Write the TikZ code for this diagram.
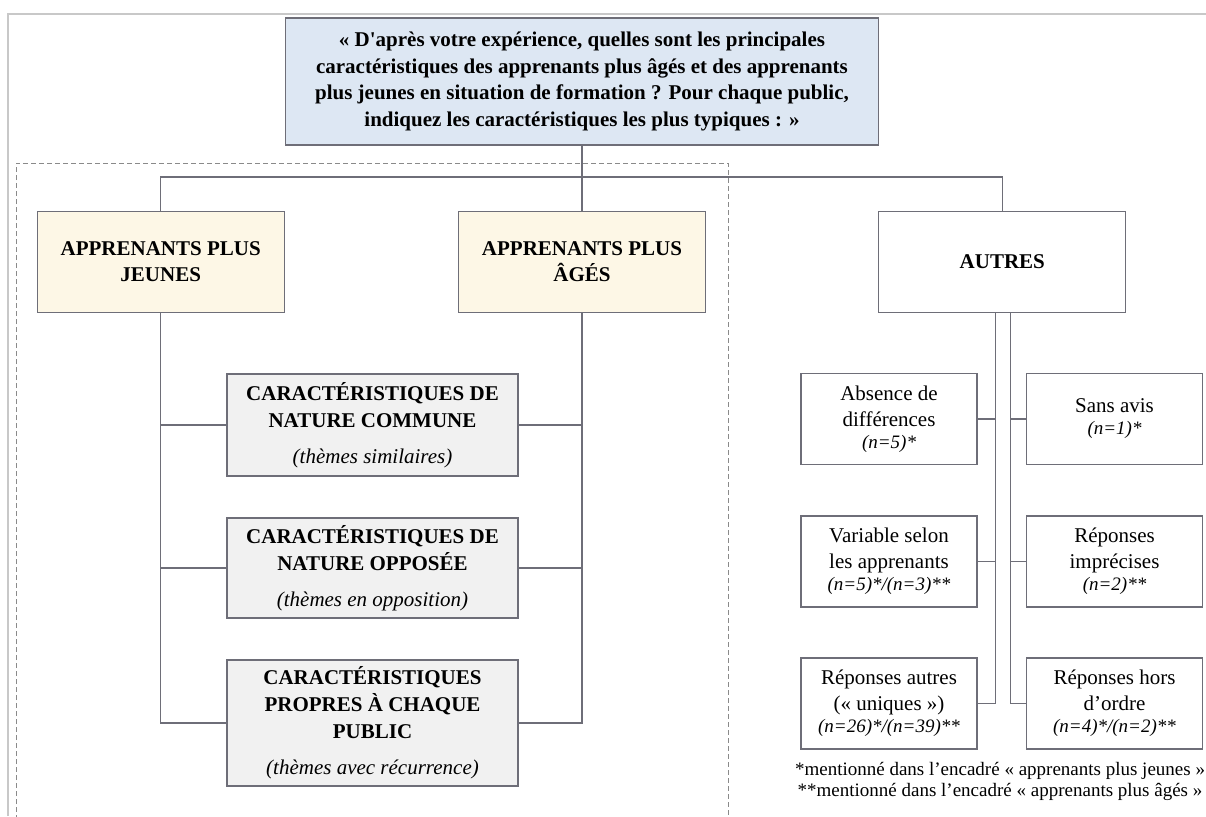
\documentclass[tikz,border=0pt]{standalone}
\usepackage{fontspec}
\setmainfont{Liberation Serif}[Ligatures=TeXOff]
\usetikzlibrary{positioning}
\definecolor{frame}{HTML}{6E6E78}
\definecolor{pageline}{HTML}{C8C8C8}
\definecolor{dashgray}{HTML}{8A8A8A}
\definecolor{softblue}{HTML}{DDE7F3}
\definecolor{cream}{HTML}{FDF7E6}
\definecolor{softgray}{HTML}{F1F1F1}
\tikzset{
    box/.style={draw=frame,line width=1.3pt,inner sep=4pt,align=center,text=black},
    qbox/.style={box,fill=softblue,minimum width=593pt,minimum height=127pt,
      font=\fontsize{21}{26.5}\selectfont\bfseries},
    groupbox/.style={box,fill=cream,minimum width=247pt,minimum height=101pt,
      font=\fontsize{21}{26}\selectfont\bfseries},
    themebox/.style={box,fill=softgray,minimum width=291pt,
      font=\fontsize{21}{27}\selectfont\bfseries},
    otherbox/.style={box,fill=white,minimum width=176pt,minimum height=91pt,
      font=\fontsize{21}{26}\selectfont},
    link/.style={draw=frame,line width=1.3pt},
    legendtext/.style={align=center,inner sep=0pt,font=\fontsize{19}{21}\selectfont}
}
\newcommand{\themeline}[1]{\\[9pt]{\mdseries\itshape #1}}
\newcommand{\nline}[1]{\\[-4pt]{\fontsize{19}{22}\selectfont\itshape #1}}

\begin{document}
\begin{tikzpicture}[x=1pt,y=-1pt]
    \useasboundingbox (0,0) rectangle (1206,816);
    % page frame and group frame
    \draw[pageline,line width=1.5pt] (8,816) |- (1206,14);
    \draw[dashgray,line width=1pt,dash pattern=on 5pt off 3pt] (16,820) |- (728,163) -- (728,820);

    \node[qbox] (question) at (582,81.5) {« D'après votre expérience, quelles sont les principales\\
      caractéristiques des apprenants plus âgés et des apprenants\\
      plus jeunes en situation de formation ? Pour chaque public,\\
      indiquez les caractéristiques les plus typiques : »};

    \node[groupbox,below=65pt of question] (ages) {APPRENANTS PLUS\\ÂGÉS};
    \node[groupbox,left=173pt of ages] (jeunes) {APPRENANTS PLUS\\JEUNES};
    \node[groupbox,fill=white,right=172pt of ages] (autres) {AUTRES};

    \node[themebox,minimum height=102pt] (commune) at (372.5,425)
      {CARACTÉRISTIQUES DE\\NATURE COMMUNE\themeline{(thèmes similaires)}};
    \node[themebox,minimum height=100pt] (opposee) at (372.5,568)
      {CARACTÉRISTIQUES DE\\NATURE OPPOSÉE\themeline{(thèmes en opposition)}};
    \node[themebox,minimum height=126pt] (propre) at (372.5,723)
      {CARACTÉRISTIQUES\\PROPRES À CHAQUE\\PUBLIC\themeline{(thèmes avec récurrence)}};

    \node[otherbox] (absence) at (889,419) {Absence de\\différences\nline{(n=5)*}};
    \node[otherbox] (variable) at (889,561.5) {Variable selon\\les apprenants\nline{(n=5)*/(n=3)**}};
    \node[otherbox] (uniques) at (889,703.5) {Réponses autres\\(« uniques »)\nline{(n=26)*/(n=39)**}};
    \node[otherbox] (sansavis) at (1114.5,419) {Sans avis\nline{(n=1)*}};
    \node[otherbox] (imprecises) at (1114.5,561.5) {Réponses\\imprécises\nline{(n=2)**}};
    \node[otherbox] (horsordre) at (1114.5,703.5) {Réponses hors\\d’ordre\nline{(n=4)*/(n=2)**}};

    \node[legendtext,anchor=north] (legend) at (1000,762)
      {*mentionné dans l’encadré « apprenants plus jeunes »\\
       **mentionné dans l’encadré « apprenants plus âgés »};

    % tree links
    \coordinate (bus) at (582,177);
    \draw[link] (question.south) -- (ages.north);
    \draw[link] (jeunes.north) |- (bus) -| (autres.north);
    \foreach \t in {commune,opposee,propre}{
      \draw[link] (jeunes.south) |- (\t.west);
      \draw[link] (ages.south) |- (\t.east);
    }
    \foreach \o in {absence,variable,uniques}
      \draw[link] ([xshift=-7pt]autres.south) |- (\o.east);
    \foreach \o in {sansavis,imprecises,horsordre}
      \draw[link] ([xshift=8pt]autres.south) |- (\o.west);
\end{tikzpicture}
\end{document}
